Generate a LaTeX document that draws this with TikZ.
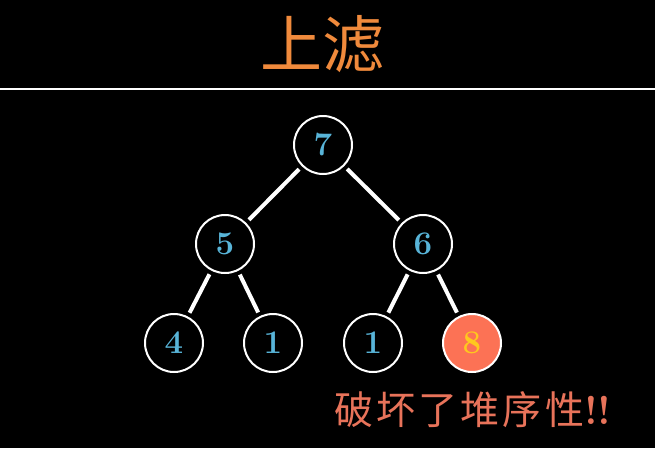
\documentclass[tikz,border=0pt]{standalone}
\usepackage{fontspec}
\newfontfamily\cjk{Noto Sans CJK SC}
\definecolor{titleor}{HTML}{F08A3C}
\definecolor{warnred}{HTML}{E8735A}
\definecolor{numblue}{HTML}{58B4D8}
\definecolor{hotfill}{HTML}{FC7255}
\definecolor{hottext}{HTML}{FFC81E}
\tikzset{
  heapnode/.style={circle, draw=white, line width=2pt, minimum size=58pt, inner sep=0pt,
    text=numblue, font=\fontsize{33}{33}\selectfont\bfseries},
  hotnode/.style={heapnode, fill=hotfill, text=hottext},
  edgeline/.style={white, line width=4pt, shorten >=4pt, shorten <=4pt}
}
\begin{document}
\begin{tikzpicture}[x=1pt,y=-1pt]
\fill[black] (0,0) rectangle (655,448);
\useasboundingbox (0,0) rectangle (655,448);
\node[text=titleor, font=\cjk\fontsize{62}{62}\selectfont] (title) at (322,44) {上滤};
\coordinate (lineL) at (0,89);
\coordinate (lineR) at (655,89);
\draw[white, line width=2pt] (lineL) -- (lineR);
\node[heapnode] (n7) at (323,145) {7};
\node[heapnode] (n5) at (225,244) {5};
\node[heapnode] (n6) at (423,244) {6};
\node[heapnode] (n4) at (174,343) {4};
\node[heapnode] (n1a) at (273,343) {1};
\node[heapnode] (n1b) at (373,343) {1};
\node[hotnode] (n8) at (472,343) {8};
\draw[edgeline] (n7) -- (n5);
\draw[edgeline] (n7) -- (n6);
\draw[edgeline] (n5) -- (n4);
\draw[edgeline] (n5) -- (n1a);
\draw[edgeline] (n6) -- (n1b);
\draw[edgeline] (n6) -- (n8);
\node[text=warnred, font=\cjk\fontsize{39}{39}\selectfont\addfontfeature{LetterSpace=8}, anchor=west] (warn) at (331,410) {破坏了堆序性{\normalfont\fontsize{40}{40}\selectfont\bfseries !!}};
\end{tikzpicture}
\end{document}
